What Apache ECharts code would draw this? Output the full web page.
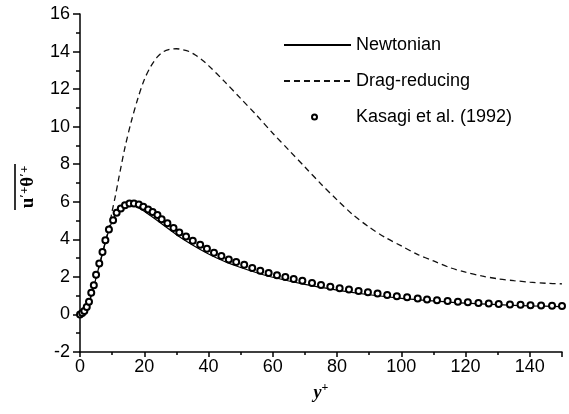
<!DOCTYPE html>
<html>
<head>
<meta charset="utf-8">
<script src="https://cdn.jsdelivr.net/npm/echarts@6/dist/echarts.min.js"></script>
<style>html,body{margin:0;padding:0;background:#fff}#c{width:569px;height:414px}</style>
</head>
<body>
<div id="c"></div>
<script>
// Newtonian (solid line)
var newtX = [0,1,2,3,4,5,6,7,8,9,10,11,12,13,14,15,16,17,18,20,22,25,30,35,40,45,50,55,60,70,80,90,100,110,120,130,140,150];
var newtY = [0,0.08,0.3,0.75,1.3,1.95,2.6,3.25,3.9,4.5,4.95,5.3,5.55,5.7,5.78,5.82,5.82,5.78,5.7,5.5,5.25,4.88,4.25,3.7,3.22,2.82,2.5,2.22,1.98,1.6,1.3,1.05,0.86,0.72,0.6,0.52,0.46,0.42];
// Drag-reducing (dashed line)
var dragX = [0,2,4,6,8,9,10,11,12,14,16,18,20,22,24,26,28,30,32,34,36,38,40,45,50,55,60,65,70,75,80,85,90,95,100,105,110,115,120,125,130,135,140,145,150];
var dragY = [0,0.3,1.3,2.6,3.95,4.6,5.5,6.3,7.2,8.9,10.3,11.5,12.5,13.2,13.7,14.0,14.12,14.15,14.1,14.0,13.8,13.55,13.25,12.4,11.5,10.6,9.65,8.75,7.85,6.95,6.1,5.3,4.65,4.1,3.65,3.2,2.85,2.5,2.25,2.05,1.9,1.8,1.72,1.66,1.63];
// Kasagi et al. (1992) (circles)
var kasX = [0,0.7,1.35,2.1,2.8,3.5,4.3,5.0,6.0,7.0,7.9,9.0,10.3,11.4,12.7,14.0,15.4,16.8,18.3,19.7,21.2,22.6,24.1,25.4,27.2,29.1,30.9,33.0,35.1,37.4,39.5,41.7,44.0,46.3,48.6,51.1,53.6,56.1,58.7,61.3,63.9,66.5,69.2,72.2,75.0,77.9,80.8,83.7,86.7,89.6,92.6,95.6,98.6,101.8,105.1,108,111.1,114.4,117.6,120.7,124.0,127.2,130.3,133.8,137.1,140.2,143.5,146.9,150];
var kasY = [0,0.08,0.19,0.40,0.67,1.15,1.56,2.12,2.71,3.33,3.95,4.52,5.02,5.41,5.64,5.82,5.91,5.91,5.85,5.73,5.59,5.45,5.30,5.07,4.86,4.61,4.36,4.15,3.92,3.71,3.50,3.29,3.11,2.93,2.79,2.65,2.47,2.33,2.21,2.09,2.0,1.89,1.79,1.68,1.57,1.48,1.40,1.33,1.25,1.18,1.11,1.04,0.97,0.91,0.85,0.80,0.76,0.71,0.68,0.65,0.61,0.58,0.55,0.53,0.51,0.49,0.47,0.46,0.45];
var seriesNames = ['Newtonian','Drag-reducing','Kasagi et al. (1992)'];

function zip(a,b){ return a.map(function(v,i){ return [v,b[i]]; }); }

var chart = echarts.init(document.getElementById('c'), null, {renderer:'canvas'});
var font = 'Liberation Sans, Arial, sans-serif';
var serif = 'Liberation Serif, Times New Roman, serif';
chart.setOption({
  animation:false,
  backgroundColor:'#fff',
  grid:{left:80, right:7, top:14, bottom:62, containLabel:false},
  legend:[
    {data:[seriesNames[0],seriesNames[1]], orient:'vertical', left:283, top:36, itemWidth:67, itemHeight:14, itemGap:18, padding:0,
     itemStyle:{opacity:0},
     textStyle:{fontSize:18, fontFamily:font, color:'#000'}},
    {data:[seriesNames[2]], orient:'vertical', left:311, top:108, itemWidth:5, itemHeight:5, padding:0,
     textStyle:{fontSize:18, fontFamily:font, color:'#000', padding:[0,0,0,34]}}
  ],
  xAxis:{type:'value', min:0, max:150, interval:20,
    name:'{i|y}{s|+}', nameLocation:'middle', nameGap:30,
    nameTextStyle:{rich:{
      i:{fontFamily:serif, fontStyle:'italic', fontWeight:'bold', fontSize:18, color:'#000', verticalAlign:'bottom', lineHeight:20},
      s:{fontFamily:serif, fontWeight:'bold', fontSize:12, color:'#000', verticalAlign:'top', lineHeight:14}
    }},
    axisLine:{onZero:false, lineStyle:{color:'#000', width:1.5}},
    axisTick:{show:true, length:5, lineStyle:{color:'#000', width:1.5}},
    minorTick:{show:true, splitNumber:2, length:3, lineStyle:{color:'#000', width:1.5}},
    splitLine:{show:false},
    axisLabel:{fontSize:18, fontFamily:font, color:'#000', margin:6, showMaxLabel:false}
  },
  yAxis:{type:'value', min:-2, max:16, interval:2,
    name:'{o|}\n{b|u}{s|\u2032+}{b|\u03b8}{s|\u2032+}', nameLocation:'middle', nameGap:42, nameRotate:90,
    nameTextStyle:{padding:[0,0,0,-8], rich:{
      o:{width:46, height:1.6, backgroundColor:'#000', lineHeight:6},
      b:{fontFamily:serif, fontWeight:'bold', fontSize:19, color:'#000', verticalAlign:'bottom', lineHeight:20},
      s:{fontFamily:serif, fontWeight:'bold', fontSize:13, color:'#000', verticalAlign:'top', lineHeight:14}
    }},
    axisLine:{show:true, onZero:false, lineStyle:{color:'#000', width:1.5}},
    axisTick:{show:true, length:7, lineStyle:{color:'#000', width:1.5}},
    minorTick:{show:true, splitNumber:2, length:4, lineStyle:{color:'#000', width:1.5}},
    splitLine:{show:false},
    axisLabel:{fontSize:18, fontFamily:font, color:'#000', margin:10}
  },
  series:[
    {name:seriesNames[0], type:'line', data:zip(newtX,newtY), smooth:0.3, symbol:'none', lineStyle:{color:'#000', width:1.2}, itemStyle:{color:'#000'}, z:3},
    {name:seriesNames[1], type:'line', data:zip(dragX,dragY), smooth:0.3, symbol:'none', lineStyle:{color:'#111', width:1.3, type:[6,4]}, itemStyle:{color:'#000'}, z:2},
    {name:seriesNames[2], type:'scatter', data:zip(kasX,kasY), symbol:'emptyCircle', symbolSize:6, itemStyle:{color:'#000', borderColor:'#000', borderWidth:0.9, opacity:1}, z:4}
  ]
});
</script>
</body>
</html>
